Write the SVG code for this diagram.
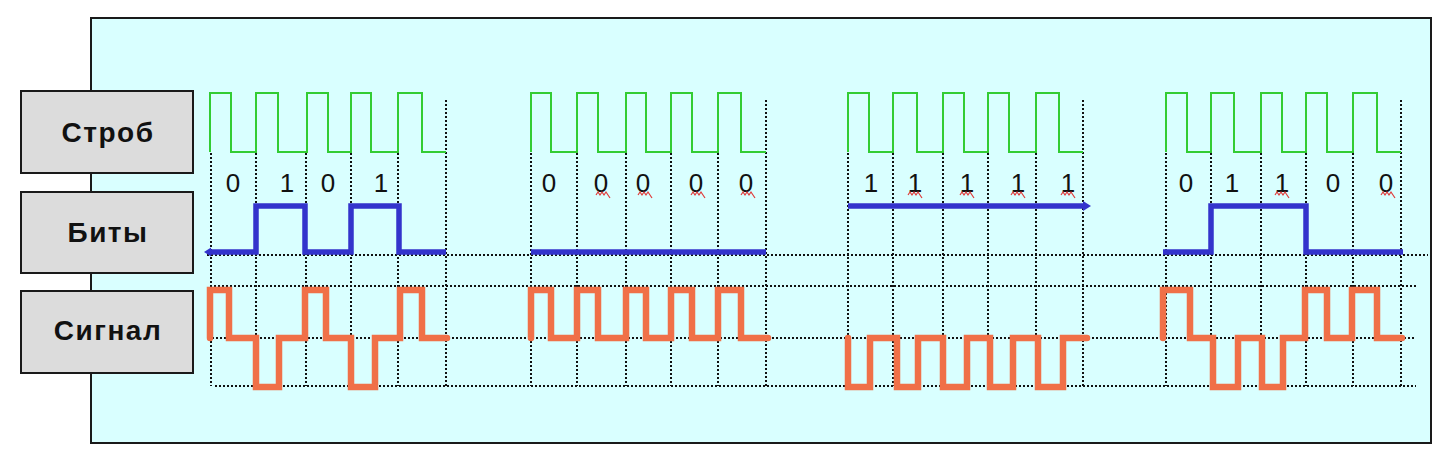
<svg xmlns="http://www.w3.org/2000/svg" width="1443" height="454" viewBox="0 0 1443 454">
<defs>
<style>
.panel{fill:#d9ffff;stroke:#1a1a1a;stroke-width:2}
.box{fill:#dcdcdc;stroke:#1a1a1a;stroke-width:2}
.lbl{font-family:"Liberation Sans",Arial,sans-serif;font-weight:bold;font-size:28px;letter-spacing:1.5px;fill:#111;text-anchor:middle}
.dig{font-family:"Liberation Sans Narrow","Liberation Sans",Arial,sans-serif;font-size:26px;fill:#111;text-anchor:middle}
.grid{fill:none;stroke:#111;stroke-width:2;stroke-dasharray:2 2}
.strobe{fill:none;stroke:#33cc33;stroke-width:2}
.bits{fill:none;stroke:#3333cc;stroke-width:5.5}
.sig{fill:none;stroke:#f07048;stroke-width:6.5;stroke-linecap:round}
.sq{fill:none;stroke:#e03a3a;stroke-width:1.2}
</style>
</defs>
<rect width="1443" height="454" fill="#ffffff"/>
<rect id="panel" class="panel" x="91" y="18" width="1340" height="425"/>

<g id="node-strob"><rect class="box" x="21" y="91" width="172" height="82"/><text class="lbl" x="108" y="142">Строб</text></g>
<g id="node-bity"><rect class="box" x="21" y="192" width="172" height="81"/><text class="lbl" x="108" y="242">Биты</text></g>
<g id="node-signal"><rect class="box" x="21" y="291" width="172" height="82"/><text class="lbl" x="108" y="340">Сигнал</text></g>

<g id="grid">
<path class="grid" d="M207,255H1428 M210,286H1416 M212,338H1416 M215,386H1416"/>
<path class="grid" d="M211,153V386 M256,153V386 M306,153V386 M351,153V386 M398,153V386 M446,100V386"/>
<path class="grid" d="M531,153V386 M577,153V386 M626,153V386 M671,153V386 M718,153V386 M766,100V386"/>
<path class="grid" d="M848,153V386 M893,153V386 M943,153V386 M988,153V386 M1036,153V386 M1083,100V386"/>
<path class="grid" d="M1166,153V386 M1211,153V386 M1261,153V386 M1306,153V386 M1353,153V386 M1401,100V386"/>
</g>

<g id="strobe">
<path class="strobe" d="M210,152V93H231V152H256V93H278V152H307V93H328V152H351V93H371V152H398V93H422V152H446"/>
<path class="strobe" d="M531,152V93H551V152H577V93H598V152H626V93H646V152H671V93H692V152H718V93H741V152H766"/>
<path class="strobe" d="M848,152V93H869V152H893V93H917V152H943V93H964V152H988V93H1009V152H1036V93H1059V152H1083"/>
<path class="strobe" d="M1166,152V93H1187V152H1211V93H1234V152H1261V93H1282V152H1306V93H1327V152H1353V93H1377V152H1401"/>
</g>

<g id="digits">
<text class="dig" x="233" y="192">0</text><text class="dig" x="287" y="192">1</text><text class="dig" x="328" y="192">0</text><text class="dig" x="381" y="192">1</text>
<text class="dig" x="549" y="192">0</text><text class="dig" x="601" y="192">0</text><text class="dig" x="643" y="192">0</text><text class="dig" x="696" y="192">0</text><text class="dig" x="746" y="192">0</text>
<text class="dig" x="871" y="192">1</text><text class="dig" x="915" y="192">1</text><text class="dig" x="967" y="192">1</text><text class="dig" x="1018" y="192">1</text><text class="dig" x="1068" y="192">1</text>
<text class="dig" x="1186" y="192">0</text><text class="dig" x="1232" y="192">1</text><text class="dig" x="1282" y="192">1</text><text class="dig" x="1333" y="192">0</text><text class="dig" x="1386" y="192">0</text>
</g>

<g id="squiggles">
<path class="sq" d="M596,195l2,-3l2,3l2,-3l2,3l2,-3l2,3l2,3"/>
<path class="sq" d="M638,195l2,-3l2,3l2,-3l2,3l2,-3l2,3l2,3"/>
<path class="sq" d="M691,195l2,-3l2,3l2,-3l2,3l2,-3l2,3l2,3"/>
<path class="sq" d="M741,195l2,-3l2,3l2,-3l2,3l2,-3l2,3l2,3"/>
<path class="sq" d="M908,195l2,-3l2,3l2,-3l2,3l2,-3l2,3l2,3"/>
<path class="sq" d="M960,195l2,-3l2,3l2,-3l2,3l2,-3l2,3l2,3"/>
<path class="sq" d="M1011,195l2,-3l2,3l2,-3l2,3l2,-3l2,3l2,3"/>
<path class="sq" d="M1061,195l2,-3l2,3l2,-3l2,3l2,-3l2,3l2,3"/>
<path class="sq" d="M1275,195l2,-3l2,3l2,-3l2,3l2,-3l2,3l2,3"/>
<path class="sq" d="M1381,195l2,-3l2,3l2,-3l2,3l2,-3l2,3l2,3"/>
</g>

<g id="bits">
<path class="bits" d="M210,252H256V206H305V252H351V206H399V252H446"/>
<path fill="#3333cc" d="M204,252l7,-4.5v9z"/>
<path class="bits" d="M531,252H766"/>
<path class="bits" d="M848,206H1084"/>
<path fill="#3333cc" d="M1091,206l-8,-5v10z"/>
<path class="bits" d="M1163,252H1211V206H1306V252H1403"/>
</g>

<g id="signal">
<path class="sig" d="M210,338V290H229V338H256V387H279V338H305V290H326V338H351V387H375V338H400V290H422V338H447"/>
<path class="sig" d="M531,338V290H551V338H577V290H598V338H626V290H646V338H671V290H692V338H718V290H741V338H768"/>
<path class="sig" d="M848,338V387H870V338H897V387H918V338H943V387H967V338H990V387H1013V338H1038V387H1063V338H1087"/>
<path class="sig" d="M1163,338V290H1190V338H1213V387H1238V338H1262V387H1283V338H1305V290H1327V338H1352V290H1377V338H1402"/>
</g>
</svg>
